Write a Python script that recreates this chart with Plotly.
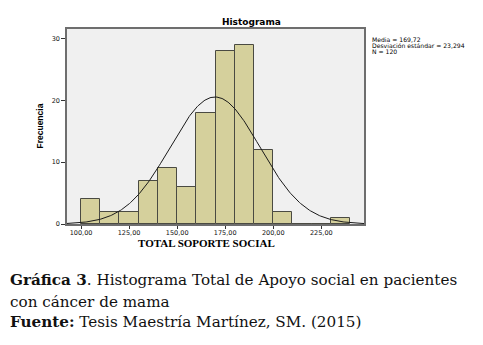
import numpy as np
import plotly.graph_objects as go

# Histogram of TOTAL SOPORTE SOCIAL (bins of width 10)
bin_starts = [100, 110, 120, 130, 140, 150, 160, 170, 180, 190, 200, 210, 220, 230]
counts = [4, 2, 2, 7, 9, 6, 18, 28, 29, 12, 2, 0, 0, 1]
bin_width = 10

# Summary statistics shown beside the chart
media = 169.72
desviacion = 23.294
n_total = 120

x_ticks = [100, 125, 150, 175, 200, 225]
x_tick_labels = ["100,00", "125,00", "150,00", "175,00", "200,00", "225,00"]
y_ticks = [0, 10, 20, 30]

W, H = 483, 345
ML, MR, MT, MB = 67, 119, 29, 121
PW, PH = W - ML - MR, H - MT - MB


def px_x(px):
    return (px - ML) / PW


def px_y(py):
    return 1 - (py - MT) / PH


x_range = [92.7, 247.2]
y_range = [0, 31.55]

centers = [s + bin_width / 2 for s in bin_starts]

# Fitted normal curve scaled to counts per bin
xc = np.linspace(x_range[0], x_range[1], 300)
yc = n_total * bin_width / (desviacion * np.sqrt(2 * np.pi)) * np.exp(-0.5 * ((xc - media) / desviacion) ** 2)

fig = go.Figure()
fig.add_trace(go.Bar(
    x=centers, y=counts, width=bin_width,
    marker=dict(color="#d5d09c", line=dict(color="#4a4a42", width=1)),
    hoverinfo="x+y",
))
fig.add_trace(go.Scatter(
    x=xc, y=yc, mode="lines",
    line=dict(color="#1a1a1a", width=1),
    hoverinfo="skip",
))

sans = "Liberation Sans, Arial, sans-serif"
wide_sans = "DejaVu Sans, Verdana, sans-serif"
serif = "Liberation Serif, Times New Roman, serif"
caption_serif = "DejaVu Serif, Georgia, serif"

fig.update_layout(
    width=W, height=H,
    margin=dict(l=ML, r=MR, t=MT, b=MB),
    paper_bgcolor="white",
    plot_bgcolor="#f0f0f0",
    showlegend=False,
    bargap=0,
    xaxis=dict(
        range=x_range, tickmode="array", tickvals=x_ticks, ticktext=x_tick_labels,
        ticks="outside", ticklen=3, tickcolor="#333", tickwidth=1,
        ticklabelstandoff=-2,
        tickfont=dict(family=wide_sans, size=6.5, color="#111"),
        showgrid=False, zeroline=False,
        showline=True, mirror=True, linecolor="#6e6e6e", linewidth=1.5,
    ),
    yaxis=dict(
        range=y_range, tickmode="array", tickvals=y_ticks,
        ticks="outside", ticklen=4, tickcolor="#333", tickwidth=1,
        tickfont=dict(family=wide_sans, size=6.5, color="#111"),
        showgrid=False, zeroline=False,
        showline=True, mirror=True, linecolor="#6e6e6e", linewidth=1.5,
    ),
)

ann = []
# Chart title
ann.append(dict(text="<b>Histograma</b>", x=px_x(251), y=px_y(22.5), xref="paper", yref="paper",
                showarrow=False, xanchor="center", yanchor="middle",
                font=dict(family=wide_sans, size=9, color="#000")))
# Statistics block
stats = [f"Media = {media:.2f}".replace(".", ","),
         f"Desviación estándar = {desviacion:.3f}".replace(".", ","),
         f"N = {n_total}"]
for i, s in enumerate(stats):
    ann.append(dict(text=s, x=px_x(370), y=px_y(39.5 + i * 6), xref="paper", yref="paper",
                    showarrow=False, xanchor="left", yanchor="middle",
                    font=dict(family=wide_sans, size=6.1, color="#000")))
# Axis titles
ann.append(dict(text="<b>Frecuencia</b>", x=px_x(39.5), y=px_y(126), xref="paper", yref="paper",
                showarrow=False, xanchor="center", yanchor="middle", textangle=-90,
                font=dict(family="Liberation Sans Narrow, Arial Narrow, sans-serif", size=8.5, color="#000")))
ann.append(dict(text="<b>TOTAL SOPORTE SOCIAL</b>", x=px_x(206), y=px_y(243), xref="paper", yref="paper",
                showarrow=False, xanchor="center", yanchor="middle",
                font=dict(family=serif, size=11, color="#000")))
# Caption below the chart
caption = [
    ("<b>Gráfica 3</b>. Histograma Total de Apoyo social en pacientes", 280),
    ("con cáncer de mama", 302),
    ("<b>Fuente:</b> Tesis Maestría Martínez, SM. (2015)", 322),
]
for text, yc_px in caption:
    ann.append(dict(text=text, x=px_x(8), y=px_y(yc_px), xref="paper", yref="paper",
                    showarrow=False, xanchor="left", yanchor="middle",
                    font=dict(family=caption_serif, size=15.2, color="#111")))
fig.update_layout(annotations=ann)

fig.write_html("out.html")
